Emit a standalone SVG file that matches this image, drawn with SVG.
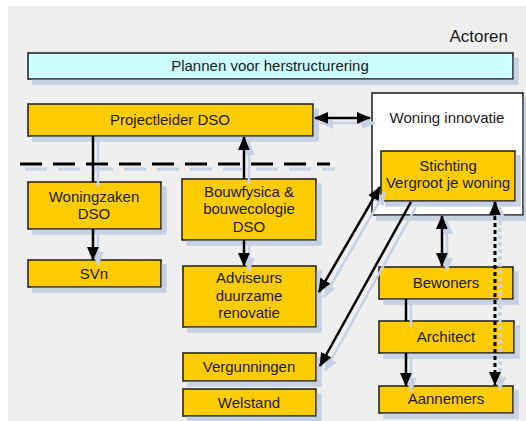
<svg xmlns="http://www.w3.org/2000/svg" width="526" height="421" viewBox="0 0 526 421">
  <style>
    .box { fill: #ffcc00; stroke: #1a1a1a; stroke-width: 1.5; }
    .plan { fill: #ccffff; stroke: #1a1a1a; stroke-width: 1.5; }
    .white { fill: #ffffff; stroke: #1a1a1a; stroke-width: 1.5; }
    .lbl { font-family: "Liberation Sans", Arial, sans-serif; font-size: 15px; fill: #1a1a1a; text-anchor: middle; }
    .title { font-family: "Liberation Sans", Arial, sans-serif; font-size: 17px; fill: #1a1a1a; text-anchor: end; }
    .ln { stroke: #000; stroke-width: 2.5; fill: none; }
    .dash { stroke: #000; stroke-width: 3; fill: none; stroke-dasharray: 22 11; }
    .dot { stroke: #000; stroke-width: 3; fill: none; stroke-dasharray: 4 3; }
  </style>
  <defs>
    <filter id="shadow" filterUnits="userSpaceOnUse" x="0" y="0" width="526" height="421">
      <feFlood flood-color="#c6d1e4"/>
      <feComposite in2="SourceAlpha" operator="in"/>
      <feOffset dx="5" dy="5"/>
      <feMerge>
        <feMergeNode/>
        <feMergeNode in="SourceGraphic"/>
      </feMerge>
    </filter>
    <marker id="arrow" markerUnits="userSpaceOnUse" markerWidth="14" markerHeight="12" refX="13" refY="6" orient="auto-start-reverse">
      <path d="M0,0 L14,6 L0,12 z" fill="#000"/>
    </marker>
  </defs>

  <!-- canvas -->
  <rect x="0" y="0" width="526" height="421" fill="#ffffff"/>
  <rect x="8" y="6" width="518" height="415" fill="#efefef"/>

  <text class="title" x="508" y="42">Actoren</text>

  <g id="plannen">
    <rect class="plan" x="28" y="53" width="485" height="26" filter="url(#shadow)"/>
    <text class="lbl" x="270" y="71">Plannen voor herstructurering</text>
  </g>

  <g id="woning-innovatie">
    <rect class="white" x="372" y="93" width="151" height="122" filter="url(#shadow)"/>
    <text class="lbl" x="447" y="123">Woning innovatie</text>
  </g>

  <g id="projectleider">
    <rect class="box" x="28" y="104" width="285" height="32" filter="url(#shadow)"/>
    <text class="lbl" x="170" y="125">Projectleider DSO</text>
  </g>

  <g id="stichting">
    <rect class="box" x="381" y="151" width="134" height="50" filter="url(#shadow)"/>
    <text class="lbl" x="448" y="171">Stichting</text>
    <text class="lbl" x="448" y="188">Vergroot je woning</text>
  </g>

  <g id="woningzaken">
    <rect class="box" x="28" y="182" width="133" height="47" filter="url(#shadow)"/>
    <text class="lbl" x="94" y="202">Woningzaken</text>
    <text class="lbl" x="94" y="219">DSO</text>
  </g>

  <g id="svn">
    <rect class="box" x="28" y="260" width="133" height="27" filter="url(#shadow)"/>
    <text class="lbl" x="94" y="279">SVn</text>
  </g>

  <g id="bouwfysica">
    <rect class="box" x="182" y="179" width="134" height="61" filter="url(#shadow)"/>
    <text class="lbl" x="249" y="197">Bouwfysica &amp;</text>
    <text class="lbl" x="249" y="214">bouwecologie</text>
    <text class="lbl" x="249" y="232">DSO</text>
  </g>

  <g id="adviseurs">
    <rect class="box" x="183" y="266" width="133" height="61" filter="url(#shadow)"/>
    <text class="lbl" x="249" y="283">Adviseurs</text>
    <text class="lbl" x="249" y="301">duurzame</text>
    <text class="lbl" x="249" y="318">renovatie</text>
  </g>

  <g id="vergunningen">
    <rect class="box" x="183" y="353" width="133" height="28" filter="url(#shadow)"/>
    <text class="lbl" x="249" y="372">Vergunningen</text>
  </g>

  <g id="welstand">
    <rect class="box" x="183" y="389" width="133" height="27" filter="url(#shadow)"/>
    <text class="lbl" x="249" y="408">Welstand</text>
  </g>

  <g id="bewoners">
    <rect class="box" x="379" y="267" width="134" height="32" filter="url(#shadow)"/>
    <text class="lbl" x="446" y="288">Bewoners</text>
  </g>

  <g id="architect">
    <rect class="box" x="379" y="321" width="135" height="32" filter="url(#shadow)"/>
    <text class="lbl" x="446" y="342">Architect</text>
  </g>

  <g id="aannemers">
    <rect class="box" x="379" y="386" width="134" height="27" filter="url(#shadow)"/>
    <text class="lbl" x="446" y="404">Aannemers</text>
  </g>

  <g id="connectors" filter="url(#shadow)">
    <line class="dash" x1="20" y1="164" x2="330" y2="164"/>
    <line class="ln" x1="315" y1="118" x2="370" y2="118" marker-start="url(#arrow)" marker-end="url(#arrow)"/>
    <line class="ln" x1="93" y1="136" x2="93" y2="182"/>
    <line class="ln" x1="93" y1="229" x2="93" y2="260" marker-end="url(#arrow)"/>
    <line class="ln" x1="244" y1="179" x2="244" y2="137" marker-end="url(#arrow)"/>
    <line class="ln" x1="244" y1="240" x2="244" y2="266" marker-end="url(#arrow)"/>
    <line class="ln" x1="319" y1="292" x2="380" y2="187" marker-start="url(#arrow)" marker-end="url(#arrow)"/>
    <line class="ln" x1="411" y1="202" x2="320" y2="366" marker-end="url(#arrow)"/>
    <line class="ln" x1="442" y1="216" x2="442" y2="266" marker-start="url(#arrow)" marker-end="url(#arrow)"/>
    <line class="dot" x1="495" y1="202" x2="495" y2="385" marker-start="url(#arrow)" marker-end="url(#arrow)"/>
    <line class="ln" x1="406" y1="299" x2="406" y2="321"/>
    <line class="ln" x1="406" y1="353" x2="406" y2="386" marker-end="url(#arrow)"/>
  </g>
</svg>
